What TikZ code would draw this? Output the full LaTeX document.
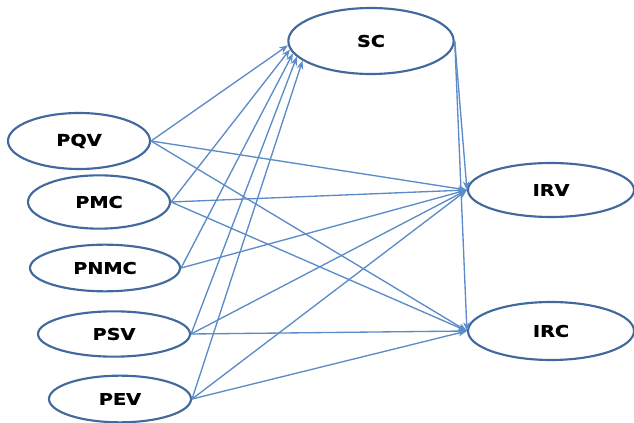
\documentclass[tikz,border=0pt]{standalone}
\usepackage{fontspec}
\setmainfont{DejaVu Sans}
\newfontfamily\lblfont[FakeStretch=1.2,FakeBold=1.2]{DejaVu Sans Bold}
\usetikzlibrary{shapes.geometric,arrows.meta}
\definecolor{ellborder}{HTML}{41699E}
\definecolor{edgeblue}{HTML}{5B8BC9}
\begin{document}
\begin{tikzpicture}[x=0.75pt,y=-0.75pt,
  var/.style={ellipse,draw=ellborder,line width=1.6pt,fill=white,inner sep=0pt,
    font=\lblfont\fontsize{12}{14}\selectfont},
  link/.style={draw=edgeblue,line width=1pt,-{Stealth[length=6.5pt,width=5pt]}}]
\useasboundingbox (0,0) rectangle (634,423);
% nodes
\node[var,minimum width=106.5pt,minimum height=42pt] (PQV) at (79,141) {PQV};
\node[var,minimum width=106.5pt,minimum height=40pt] (PMC) at (99,202) {PMC};
\node[var,minimum width=112.5pt,minimum height=35pt] (PNMC) at (105,268) {PNMC};
\node[var,minimum width=114pt,minimum height=34pt] (PSV) at (114,334) {PSV};
\node[var,minimum width=106.5pt,minimum height=35pt] (PEV) at (120,399) {PEV};
\node[var,minimum width=124pt,minimum height=49.5pt] (SC) at (371,41) {SC};
\node[var,minimum width=124.5pt,minimum height=40.5pt] (IRV) at (551,190) {IRV};
\node[var,minimum width=124.5pt,minimum height=43.5pt] (IRC) at (551,331) {IRC};
% edges to SC
\draw[link] (PQV.east) -- (SC.183);
\draw[link] (PMC.east) -- (SC.186);
\draw[link] (PNMC.east) -- (SC.189);
\draw[link] (PSV.east) -- (SC.192);
\draw[link] (PEV.east) -- (SC.196);
% edges to IRV
\draw[link] (PQV.east) -- (IRV.west);
\draw[link] (PMC.east) -- (IRV.west);
\draw[link] (PNMC.east) -- (IRV.west);
\draw[link] (PSV.east) -- (IRV.west);
\draw[link] (PEV.east) -- (IRV.west);
\draw[link] (SC.east) -- (IRV.west);
% edges to IRC
\draw[link] (PQV.east) -- (IRC.west);
\draw[link] (PMC.east) -- (IRC.west);
\draw[link] (PSV.east) -- (IRC.west);
\draw[link] (PEV.east) -- (IRC.west);
\draw[link] (SC.east) -- (IRC.west);
\end{tikzpicture}
\end{document}
